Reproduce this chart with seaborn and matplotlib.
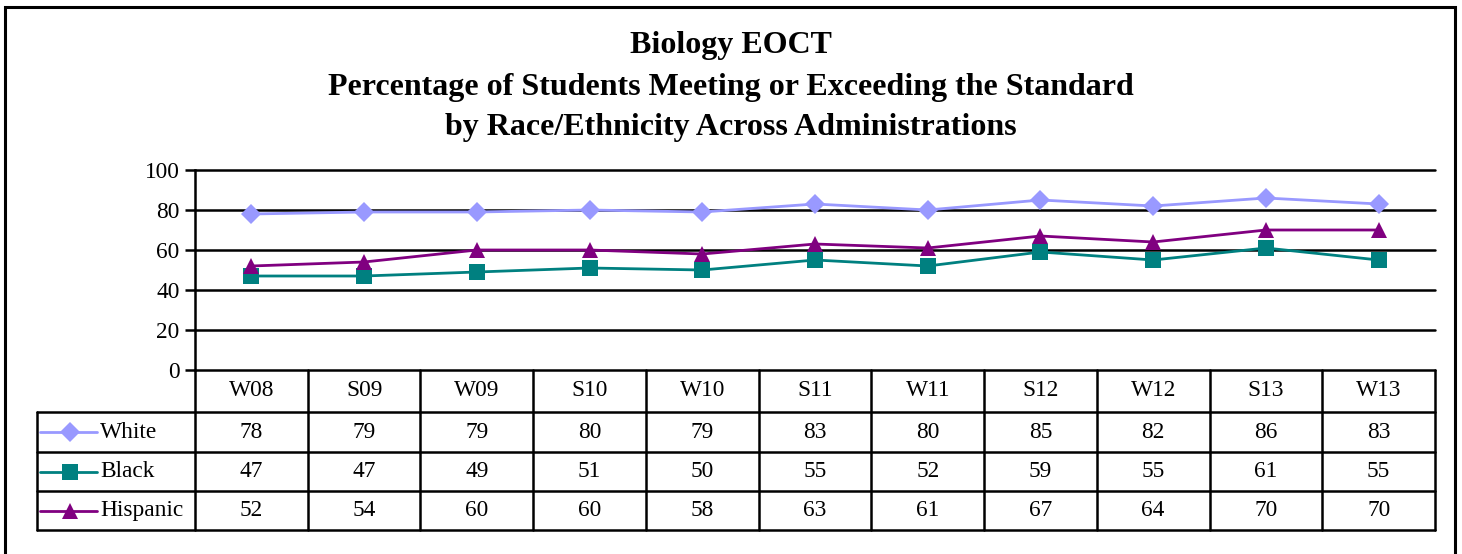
import matplotlib
matplotlib.use("Agg")
import matplotlib.pyplot as plt
import matplotlib.transforms as mtransforms
from matplotlib.lines import Line2D
from matplotlib.patches import Rectangle
import seaborn as sns
import pandas as pd

administrations = ["W08", "S09", "W09", "S10", "W10", "S11", "W11", "S12", "W12", "S13", "W13"]
white = [78, 79, 79, 80, 79, 83, 80, 85, 82, 86, 83]
black = [47, 47, 49, 51, 50, 55, 52, 59, 55, 61, 55]
hispanic = [52, 54, 60, 60, 58, 63, 61, 67, 64, 70, 70]
series_names = ["White", "Black", "Hispanic"]
y_ticks = [0, 20, 40, 60, 80, 100]
title_lines = ["Biology EOCT",
               "Percentage of Students Meeting or Exceeding the Standard",
               "by Race/Ethnicity Across Administrations"]

colors = {"White": "#9999FF", "Black": "#008080", "Hispanic": "#800080"}
markers = {"White": "D", "Black": "s", "Hispanic": "^"}
msizes = {"White": 10, "Black": 11, "Hispanic": 12}

sns.set_theme(style="white")
plt.rcParams["font.family"] = ["Liberation Serif", "DejaVu Serif"]
plt.rcParams["text.color"] = "black"
plt.rcParams["axes.labelcolor"] = "black"
plt.rcParams["xtick.color"] = "black"
plt.rcParams["ytick.color"] = "black"

FS = 16.8

rows = []
for name, vals in zip(series_names, [white, black, hispanic]):
    for i, v in enumerate(vals):
        rows.append({"pos": i, "value": v, "group": name})
df = pd.DataFrame(rows)

W, H = 1462, 554
fig = plt.figure(figsize=(W / 100, H / 100), dpi=100)
L, R, T, B = 195, 1435, 170, 370
ax = fig.add_axes([L / W, 1 - B / H, (R - L) / W, (B - T) / H])

for name in series_names:
    sub = df[df["group"] == name]
    sns.lineplot(data=sub, x="pos", y="value", ax=ax, color=colors[name],
                 marker=markers[name], markersize=msizes[name], markeredgewidth=0,
                 linewidth=2, legend=False)

n = len(administrations)
ax.set_xlim(-0.5, n - 0.5)
ax.set_ylim(0, 100)
ax.set_yticks(y_ticks)
ax.set_yticklabels([str(t) for t in y_ticks], fontsize=FS, color="black")
ax.set_xticks([])
ax.set_xlabel("")
ax.set_ylabel("")
for t in y_ticks[1:]:
    ax.axhline(t, color="black", linewidth=1.8, zorder=0, clip_on=False)
for s in ["top", "right", "bottom"]:
    ax.spines[s].set_visible(False)
ax.spines["left"].set_color("black")
ax.spines["left"].set_linewidth(1.8)
ax.tick_params(axis="y", which="both", left=True, length=7, width=1.8, color="black",
               direction="out", pad=4, labelcolor="black")

# table
ph = B - T
pw = R - L
def ay(py):
    return -(py - B) / ph
leg_left = (37 - L) / pw
row_bounds = [370, 412, 452, 491, 530]
blend = mtransforms.blended_transform_factory(ax.transData, ax.transAxes)
lw = 1.8
ax.add_line(Line2D([0, 1], [ay(370), ay(370)], transform=ax.transAxes, color="black",
                   lw=lw, clip_on=False))
for pyb in row_bounds[1:]:
    ax.add_line(Line2D([leg_left, 1], [ay(pyb), ay(pyb)], transform=ax.transAxes,
                       color="black", lw=lw, clip_on=False))
ax.add_line(Line2D([0, 0], [ay(370), ay(530)], transform=ax.transAxes, color="black",
                   lw=lw, clip_on=False))
ax.add_line(Line2D([leg_left, leg_left], [ay(412), ay(530)], transform=ax.transAxes,
                   color="black", lw=lw, clip_on=False))
for i in range(n):
    xb = i + 0.5
    ax.add_line(Line2D([xb, xb], [ay(370), ay(530)], transform=blend, color="black",
                       lw=lw, clip_on=False))
for i, lab in enumerate(administrations):
    ax.text(i, ay(391), lab, transform=blend, ha="center", va="center", fontsize=FS)
for r, (name, vals) in enumerate(zip(series_names, [white, black, hispanic])):
    yc = ay((row_bounds[r + 1] + row_bounds[r + 2]) / 2)
    for i, v in enumerate(vals):
        ax.text(i, yc, str(v), transform=blend, ha="center", va="center", fontsize=FS)
    x0 = (40 - L) / pw
    x1 = (97 - L) / pw
    xm = (70 - L) / pw
    ax.add_line(Line2D([x0, x1], [yc, yc], transform=ax.transAxes, color=colors[name],
                       lw=2, clip_on=False))
    ax.add_line(Line2D([xm], [yc], transform=ax.transAxes, color=colors[name],
                       marker=markers[name], markersize=msizes[name], markeredgewidth=0,
                       linestyle="none", clip_on=False))
    ax.text((100 - L) / pw, yc, name, transform=ax.transAxes, ha="left", va="center",
            fontsize=FS)

for k, (line, py) in enumerate(zip(title_lines, [46, 87, 127])):
    fig.text(0.5, 1 - py / H, line, ha="center", va="center", fontsize=23,
             fontweight="bold", color="black")

fig.patches.append(Rectangle((5 / W, -0.05), (1455 - 5) / W, 1.05 - 7 / H,
                             transform=fig.transFigure, fill=False, edgecolor="black",
                             linewidth=2.2))

fig.savefig("out.png", dpi=100)
